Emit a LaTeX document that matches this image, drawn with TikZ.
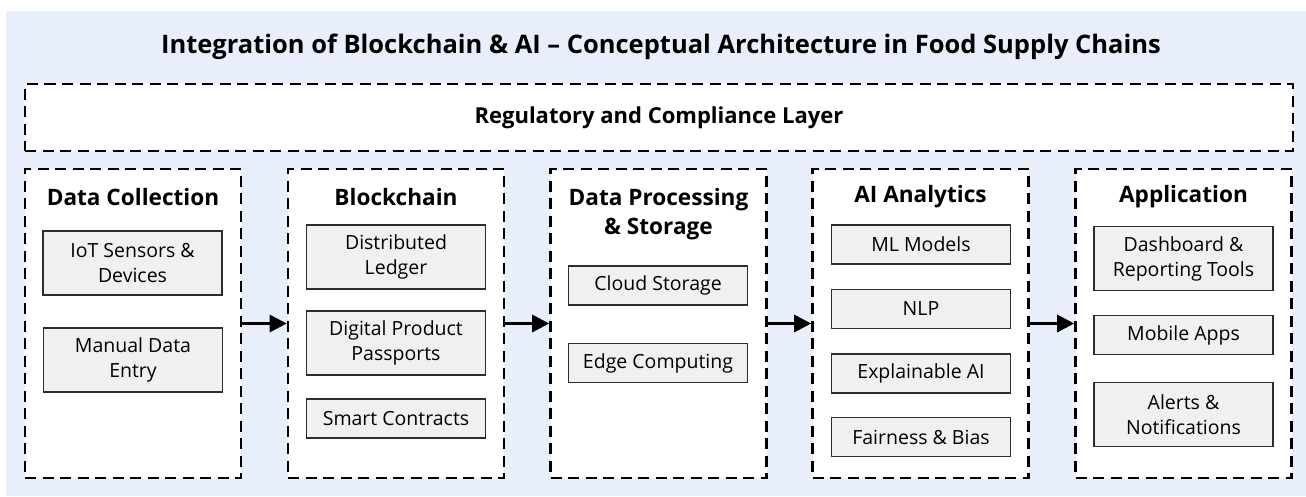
\documentclass[tikz,border=0pt]{standalone}
\usepackage{fontspec}
\setmainfont{Open Sans}
\usetikzlibrary{arrows.meta}
\definecolor{bgblue}{RGB}{232,238,250}
\definecolor{itemfill}{RGB}{240,240,240}
\definecolor{itemdraw}{RGB}{45,45,45}
\tikzset{
  layerbox/.style={draw=black, fill=white, line width=2.6pt, dash pattern=on 11pt off 6.5pt, inner sep=0pt},
  colbox/.style={layerbox, minimum width=216pt, minimum height=309pt},
  itembox/.style={draw=itemdraw, fill=itemfill, line width=1.4pt, minimum width=179pt, inner sep=0pt, align=center, font=\fontsize{19.5}{25}\selectfont},
  onebox/.style={itembox, minimum height=39pt},
  twobox/.style={itembox, minimum height=64pt},
  colhead/.style={font=\fontsize{22.6}{29}\selectfont\bfseries, align=center, inner sep=0pt},
  flow/.style={line width=3pt, -{Triangle[length=17pt,width=17pt]}}
}
\begin{document}
\begin{tikzpicture}[x=1pt,y=-1pt]
\useasboundingbox (0,0) rectangle (1306,496);
\fill[bgblue] (6,11) rectangle (1306,496);
\node[font=\fontsize{25.5}{28}\selectfont\bfseries, inner sep=0pt] (title) at (661,47) {Integration of Blockchain \& AI -- Conceptual Architecture in Food Supply Chains};
\node[layerbox, minimum width=1268pt, minimum height=67pt, font=\fontsize{22}{24}\selectfont\bfseries] (reg) at (659,117.5) {Regulatory and Compliance Layer};

% columns
\node[colbox] (c1) at (133,323.5) {};
\node[colbox] (c2) at (396,323.5) {};
\node[colbox] (c3) at (658.5,323.5) {};
\node[colbox] (c4) at (920.5,323.5) {};
\node[colbox] (c5) at (1183.5,323.5) {};

% headers
\node[colhead] (h1) at (133,197) {Data Collection};
\node[colhead] (h2) at (396,197) {Blockchain};
\node[colhead] (h3) at (658.5,214.5) {Data Processing\\\& Storage};
\node[colhead] (h4) at (920.5,197) {AI Analytics};
\node[colhead] (h5) at (1183.5,197) {Application};

% column 1
\node[twobox] (iot) at (132.5,263) {IoT Sensors \&\\Devices};
\node[twobox] (man) at (133,360) {Manual Data\\Entry};
% column 2
\node[twobox] (dl) at (396,257) {Distributed\\Ledger};
\node[twobox] (dpp) at (396,343) {Digital Product\\Passports};
\node[onebox] (sc) at (396,418.5) {Smart Contracts};
% column 3
\node[onebox] (cs) at (658,285.5) {Cloud Storage};
\node[onebox] (ec) at (658,363) {Edge Computing};
% column 4
\node[onebox] (ml) at (921,244.5) {ML Models};
\node[onebox] (nlp) at (921,309) {NLP};
\node[onebox] (xai) at (921,373.5) {Explainable AI};
\node[onebox] (fb) at (921,437) {Fairness \& Bias};
% column 5
\node[twobox] (db) at (1183.5,258.5) {Dashboard \&\\Reporting Tools};
\node[onebox] (ma) at (1183.5,335) {Mobile Apps};
\node[twobox] (al) at (1183.5,414.5) {Alerts \&\\Notifications};

% arrows
\draw[flow] (c1.east) -- (c2.west);
\draw[flow] (c2.east) -- (c3.west);
\draw[flow] (c3.east) -- (c4.west);
\draw[flow] (c4.east) -- (c5.west);
\end{tikzpicture}
\end{document}
